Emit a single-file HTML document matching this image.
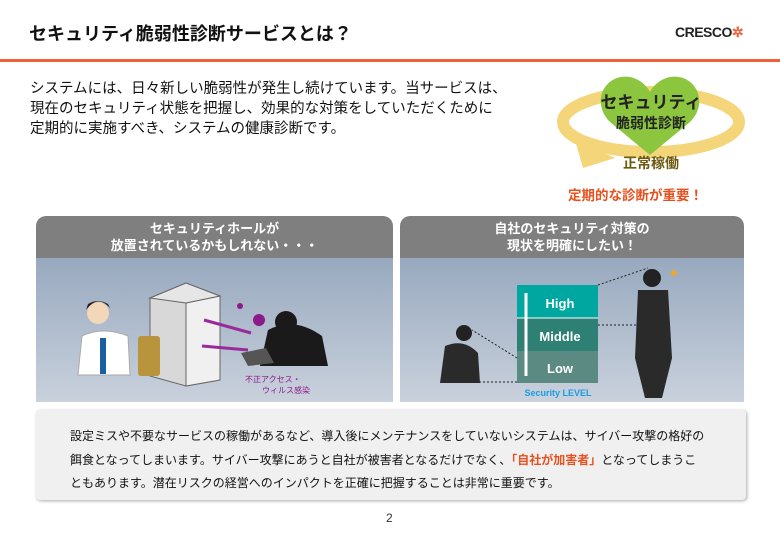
<!DOCTYPE html>
<html><head><meta charset="utf-8"><style>
body{margin:0;width:780px;height:540px;background:#fff;position:relative;overflow:hidden;font-family:"Liberation Sans","Noto Sans CJK JP",sans-serif;}
.a{position:absolute;}
</style></head><body>
<div class="a" style="left:29px;top:20px;font-size:18px;font-weight:bold;color:#111;">セキュリティ脆弱性診断サービスとは？</div>
<div class="a" style="left:675px;top:24px;font-size:14px;font-weight:bold;color:#222;letter-spacing:-0.5px">CRESCO<span style="color:#f0603a">✲</span></div>
<div class="a" style="left:0;top:59px;width:780px;height:3px;background:#f0603a"></div>
<div class="a" style="left:30px;top:79px;font-size:14.5px;line-height:20px;color:#111;">システムには、日々新しい脆弱性が発生し続けています。当サービスは、<br>現在のセキュリティ状態を把握し、効果的な対策をしていただくために<br>定期的に実施すべき、システムの健康診断です。</div>
<svg class="a" style="left:555px;top:70px" width="200" height="110">
<ellipse cx="96" cy="52" rx="88" ry="30" fill="none" stroke="#f5d57a" stroke-width="12"/>
<path d="M95 85 L55 52 C35 32 50 3 75 7 C85 9 92 16 95 22 C98 16 105 9 115 7 C140 3 155 32 135 52 Z" fill="#8cc63f"/>
<polygon points="20,70 60,88 28,98" fill="#f5d57a"/>
<text x="96" y="38" font-size="17" font-weight="bold" text-anchor="middle" fill="#222">セキュリティ</text>
<text x="96" y="58" font-size="14" font-weight="bold" text-anchor="middle" fill="#222">脆弱性診断</text>
<text x="96" y="98" font-size="14" font-weight="bold" text-anchor="middle" fill="#6b5a10">正常稼働</text>
</svg>
<div class="a" style="left:568px;top:184px;font-size:13.5px;font-weight:bold;color:#e8501e;">定期的な診断が重要！</div>

<div class="a" style="left:36px;top:216px;width:357px;height:42px;background:#7f7f7f;border-radius:10px 10px 0 0;color:#fff;font-weight:bold;font-size:13px;line-height:17px;text-align:center;padding-top:4px;box-sizing:border-box">セキュリティホールが<br>放置されているかもしれない・・・</div>
<div class="a" style="left:36px;top:258px;width:357px;height:144px;background:linear-gradient(#98a9bf,#c9d1dc)"></div>
<svg class="a" style="left:36px;top:258px" width="357" height="144">
<path d="M42 117 L46 78 Q67 68 92 78 L94 117Z" fill="#fff" stroke="#aaa"/>
<rect x="64" y="80" width="6" height="36" fill="#1a5fa0"/>
<circle cx="62" cy="55" r="11" fill="#f4d6b8"/><path d="M50 52 Q62 36 74 50 L72 46 Q62 40 52 46Z" fill="#222"/>
<polygon points="114,40 150,25 184,38 184,122 150,128 114,118" fill="#d8d8d8" stroke="#666"/>
<polygon points="150,45 184,38 184,122 150,128" fill="#f0f0f0" stroke="#666"/>
<polygon points="114,40 150,25 184,38 150,45" fill="#e6e6e6" stroke="#666"/>
<rect x="102" y="78" width="22" height="40" fill="#b8943c" rx="3"/>
<path d="M168 62 L215 75" stroke="#9b2b9b" stroke-width="3"/><path d="M166 88 L212 92" stroke="#9b2b9b" stroke-width="3"/>
<circle cx="204" cy="48" r="3" fill="#8b1a8b"/><circle cx="223" cy="62" r="6" fill="#8b1a8b"/>
<path d="M224 108 L232 72 Q258 58 286 78 L292 108Z" fill="#1a1a1a"/>
<circle cx="250" cy="64" r="11" fill="#1a1a1a"/>
<path d="M205 95 L230 90 L238 105 L212 108Z" fill="#555"/>
<text x="209" y="124" font-size="8" fill="#8b1a8b">不正アクセス・</text>
<text x="226" y="135" font-size="8" fill="#8b1a8b">ウィルス感染</text>
</svg>

<div class="a" style="left:400px;top:216px;width:344px;height:42px;background:#7f7f7f;border-radius:10px 10px 0 0;color:#fff;font-weight:bold;font-size:13px;line-height:17px;text-align:center;padding-top:4px;box-sizing:border-box">自社のセキュリティ対策の<br>現状を明確にしたい！</div>
<div class="a" style="left:400px;top:258px;width:344px;height:144px;background:linear-gradient(#98a9bf,#c9d1dc)"></div>
<svg class="a" style="left:400px;top:258px" width="344" height="144">
<rect x="117" y="27" width="81" height="33" fill="#00a7a0"/>
<rect x="117" y="60" width="81" height="33" fill="#2e7f74"/>
<rect x="117" y="93" width="81" height="32" fill="#5a8a82"/>
<line x1="117" y1="60" x2="198" y2="60" stroke="#fff"/>
<line x1="126" y1="35" x2="126" y2="118" stroke="#fff" stroke-width="3"/>
<text x="160" y="50" font-size="13" font-weight="bold" fill="#fff" text-anchor="middle">High</text>
<text x="160" y="83" font-size="13" font-weight="bold" fill="#fff" text-anchor="middle">Middle</text>
<text x="160" y="115" font-size="13" font-weight="bold" fill="#fff" text-anchor="middle">Low</text>
<text x="158" y="138" font-size="9" font-weight="bold" fill="#1a9de0" text-anchor="middle">Security LEVEL</text>
<path d="M198 27 L248 10 M198 67 L238 67 M117 100 L72 72 M117 124 L72 124" stroke="#222" stroke-dasharray="2,2"/>
<circle cx="64" cy="75" r="8" fill="#222"/>
<path d="M40 125 L45 88 Q64 80 78 95 L80 125Z" fill="#2a2a2a"/>
<circle cx="252" cy="20" r="9" fill="#222"/>
<path d="M238 32 L268 32 L272 100 L262 140 L245 140 L235 100Z" fill="#2a2a2a"/>
<text x="268" y="20" font-size="14" fill="#f5a623">✦</text>
</svg>

<div class="a" style="left:36px;top:410px;width:710px;height:90px;background:#f0f0f0;border-radius:4px;box-shadow:1px 1px 3px #aaa"></div>
<div class="a" style="left:70px;top:425px;font-size:12px;line-height:23.5px;color:#111;white-space:nowrap">設定ミスや不要なサービスの稼働があるなど、導入後にメンテナンスをしていないシステムは、サイバー攻撃の格好の<br>餌食となってしまいます。サイバー攻撃にあうと自社が被害者となるだけでなく、<span style="color:#e8501e;font-weight:bold">「自社が加害者」</span>となってしまうこ<br>ともあります。潜在リスクの経営へのインパクトを正確に把握することは非常に重要です。</div>
<div class="a" style="left:386px;top:511px;font-size:12px;color:#333">2</div>
</body></html>
